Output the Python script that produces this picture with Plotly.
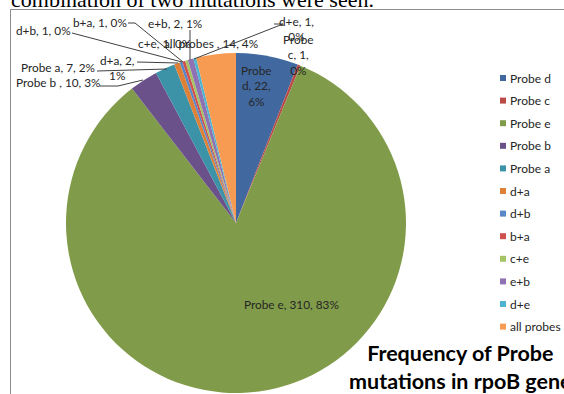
import plotly.graph_objects as go

# ---- data ----
categories = ["Probe d", "Probe c", "Probe e", "Probe b ", "Probe a", "d+a", "d+b",
              "b+a", "c+e", "e+b", "d+e", "all probes "]
counts = [22, 1, 310, 10, 7, 2, 1, 1, 1, 2, 1, 14]
colors = ["#41699F", "#B94A48", "#809C4A", "#6A5189", "#3C93A8", "#DE8036",
          "#5A87C5", "#D0504E", "#A5C465", "#8F72B3", "#4DB5CF", "#F89B52"]

W, H = 564, 394
def px(x): return x / W
def py(y): return 1 - y / H

total = sum(counts)
pct = [round(100 * c / total) for c in counts]
lab = [f"{n}, {c}, {p}%" for n, c, p in zip(categories, counts, pct)]

# pie geometry (pixels)
cx, cy, r = 236, 223, 170

fig = go.Figure()
fig.add_trace(go.Pie(
    labels=categories, values=counts, sort=False, direction="clockwise",
    rotation=0, marker=dict(colors=colors, line=dict(width=0)),
    textinfo="none", hoverinfo="label+value+percent", showlegend=False,
    domain=dict(x=[px(cx - r), px(cx + r)], y=[py(cy + r), py(cy - r)]),
))

FONT = "Lato, Liberation Sans, sans-serif"
lab_font = dict(family=FONT, size=11.8, color="#262626")

# label placements (pixel centres) and wrapped texts
label_specs = [
    (0, "Probe<br>d, 22,<br>6%", 256, 86),
    (1, "Probe<br>c, 1,<br>0%", 298, 55),
    (2, None, 291, 304),
    (3, None, 58, 82),
    (4, None, 58, 68),
    (5, "d+a, 2,<br>1%", 117, 68),
    (6, None, 43, 31),
    (7, None, 100, 22),
    (8, None, 164, 43),
    (9, None, 175, 24),
    (10, "d+e, 1,<br>0%", 296, 29),
    (11, None, 211, 43),
]
anns = []
for i, txt, x, y in label_specs:
    t = txt if txt else lab[i]
    anns.append(dict(text=t, x=px(x), y=py(y), xref="paper", yref="paper",
                     xanchor="center", yanchor="middle", showarrow=False,
                     font=lab_font, align="center"))

# leader lines (pixel coordinates)
leaders = [
    [(100, 86), (118, 86), (143, 80)],
    [(97, 71), (167, 69)],
    [(137, 62), (178, 63)],
    [(72, 33), (182, 62)],
    [(128, 23), (135, 23), (183, 62)],
    [(190, 30), (190, 60)],
    [(274, 24), (283, 24), (194, 59)],
]
shapes = []
for pts in leaders:
    path = "M" + " L".join(f"{px(x)},{py(y)}" for x, y in pts)
    shapes.append(dict(type="path", xref="paper", yref="paper", path=path,
                       line=dict(color="#404040", width=1)))

# chart border
shapes.append(dict(type="rect", xref="paper", yref="paper",
                   x0=px(10.5), x1=px(700), y0=py(500), y1=py(9.5),
                   line=dict(color="#8C8C8C", width=1), layer="below"))

# custom legend
for i, (name, col) in enumerate(zip(categories, colors)):
    yy = 78 + i * 22.6
    shapes.append(dict(type="rect", xref="paper", yref="paper",
                       x0=px(500), x1=px(506), y0=py(yy + 3), y1=py(yy - 3),
                       fillcolor=col, line=dict(width=0)))
    anns.append(dict(text=name.strip(), x=px(508), y=py(yy), xref="paper", yref="paper",
                     xanchor="left", yanchor="middle", showarrow=False,
                     font=dict(family=FONT, size=12, color="#262626")))

# chart title
anns.append(dict(text="Frequency of Probe<br>mutations in rpoB gene",
                 x=px(460), y=py(367), xref="paper", yref="paper",
                 xanchor="center", yanchor="middle", showarrow=False, align="center",
                 font=dict(family=FONT, size=21.5, color="#000000", weight="bold")))

# document text above the chart (cropped)
anns.append(dict(text="combination of two mutations were seen.",
                 x=px(9), y=py(14), xref="paper", yref="paper",
                 xanchor="left", yanchor="bottom", showarrow=False,
                 font=dict(family="Liberation Serif, serif", size=22, color="#000000")))

fig.update_layout(
    width=W, height=H, margin=dict(l=0, r=0, t=0, b=0),
    paper_bgcolor="white", plot_bgcolor="white",
    annotations=anns, shapes=shapes, showlegend=False,
)
fig.write_html("out.html")
